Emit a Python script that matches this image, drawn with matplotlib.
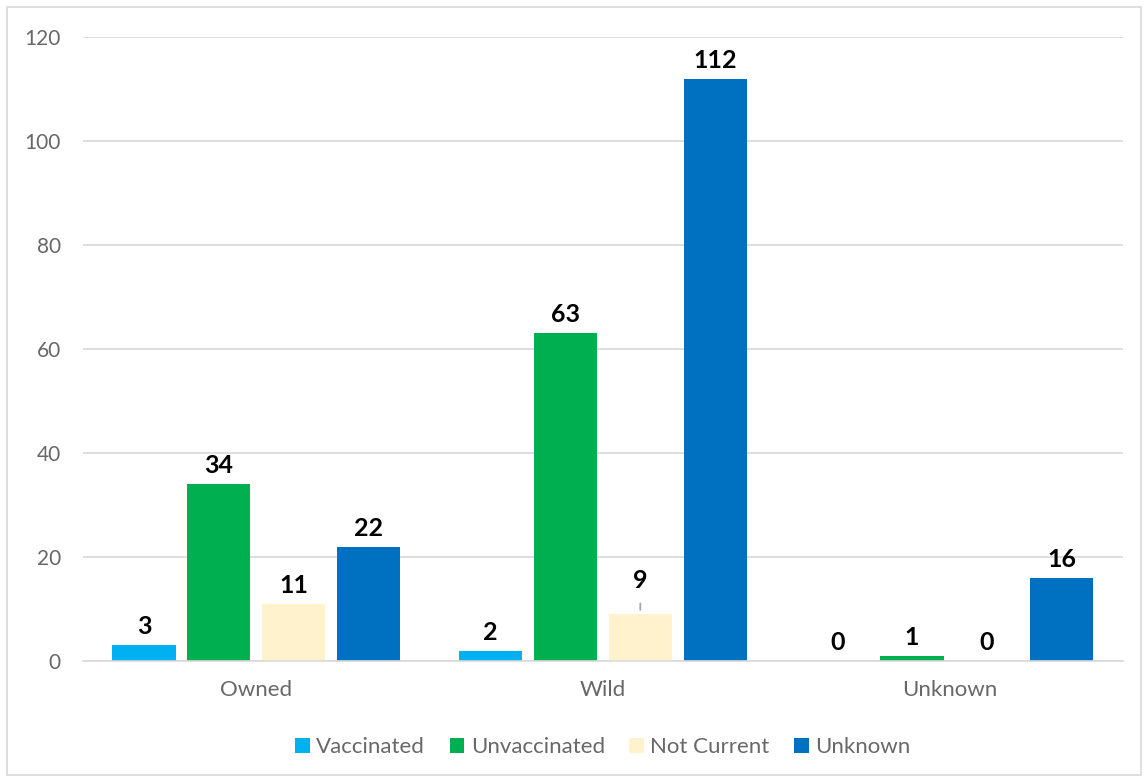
import numpy as np
import matplotlib.pyplot as plt
from matplotlib.patches import Rectangle

categories = ["Owned", "Wild", "Unknown"]
series_names = ["Vaccinated", "Unvaccinated", "Not Current", "Unknown"]
vaccinated = [3, 2, 0]
unvaccinated = [34, 63, 1]
not_current = [11, 9, 0]
unknown = [22, 112, 16]
y_ticks = [0, 20, 40, 60, 80, 100, 120]

colors = ["#00B0F0", "#00B050", "#FFF2CC", "#0070C0"]
text_gray = "#686868"


def main():
    plt.rcParams.update({
        'font.family': ['Lato', 'DejaVu Sans'],
        'font.size': 15,
    })
    fig = plt.figure(figsize=(11.48, 7.82), dpi=100)
    ax = fig.add_axes([0.0723, 0.1547, 0.9057, 0.798])

    # light border round the whole chart
    fig.patches.append(Rectangle((0.006, 0.009), 0.988, 0.982, transform=fig.transFigure,
                                 fill=False, edgecolor="#D9D9D9", linewidth=1.2))

    x = np.arange(len(categories))
    step = 0.216
    width = 0.182
    data = [vaccinated, unvaccinated, not_current, unknown]

    for i, (name, vals) in enumerate(zip(series_names, data)):
        pos = x + (i - 1.5) * step
        ax.bar(pos, vals, width=width, color=colors[i], label=name, zorder=3)
        for xp, v in zip(pos, vals):
            if name == "Not Current" and v == 9:
                # label pushed up with a leader line
                ax.annotate(str(v), xy=(xp, v), xytext=(0, 16), textcoords='offset points',
                            ha='center', va='bottom', fontsize=18, fontweight='bold',
                            color='black')
                ax.annotate("", xy=(xp, v + 0.3), xytext=(xp, v + 2.6),
                            arrowprops=dict(arrowstyle='-', color='#A6A6A6', lw=1.3))
            else:
                ax.annotate(str(v), xy=(xp, v), xytext=(0, 5), textcoords='offset points',
                            ha='center', va='bottom', fontsize=18, fontweight='bold',
                            color='black')

    ax.set_xlim(-0.5, 2.5)
    ax.set_ylim(0, 120)
    ax.set_yticks(y_ticks)
    ax.set_xticks(x)
    ax.set_xticklabels(categories)
    ax.tick_params(axis='both', length=0, colors=text_gray)
    ax.tick_params(axis='x', pad=14, labelsize=16)
    ax.tick_params(axis='y', pad=16, labelsize=15)
    ax.grid(axis='y', color='#D9D9D9', linewidth=1.2, zorder=0)
    ax.set_axisbelow(True)
    for s in ['top', 'right', 'left']:
        ax.spines[s].set_visible(False)
    ax.spines['bottom'].set_color('#D9D9D9')
    ax.spines['bottom'].set_linewidth(1.2)
    ax.spines['bottom'].set_zorder(4)

    ax.legend(loc='upper center', bbox_to_anchor=(0.5, -0.09), ncol=4, frameon=False,
              handlelength=0.65, handleheight=0.65, handletextpad=0.3, columnspacing=1.1,
              fontsize=16, labelcolor=text_gray)

    fig.savefig('out.png', dpi=100)


if __name__ == '__main__':
    main()
